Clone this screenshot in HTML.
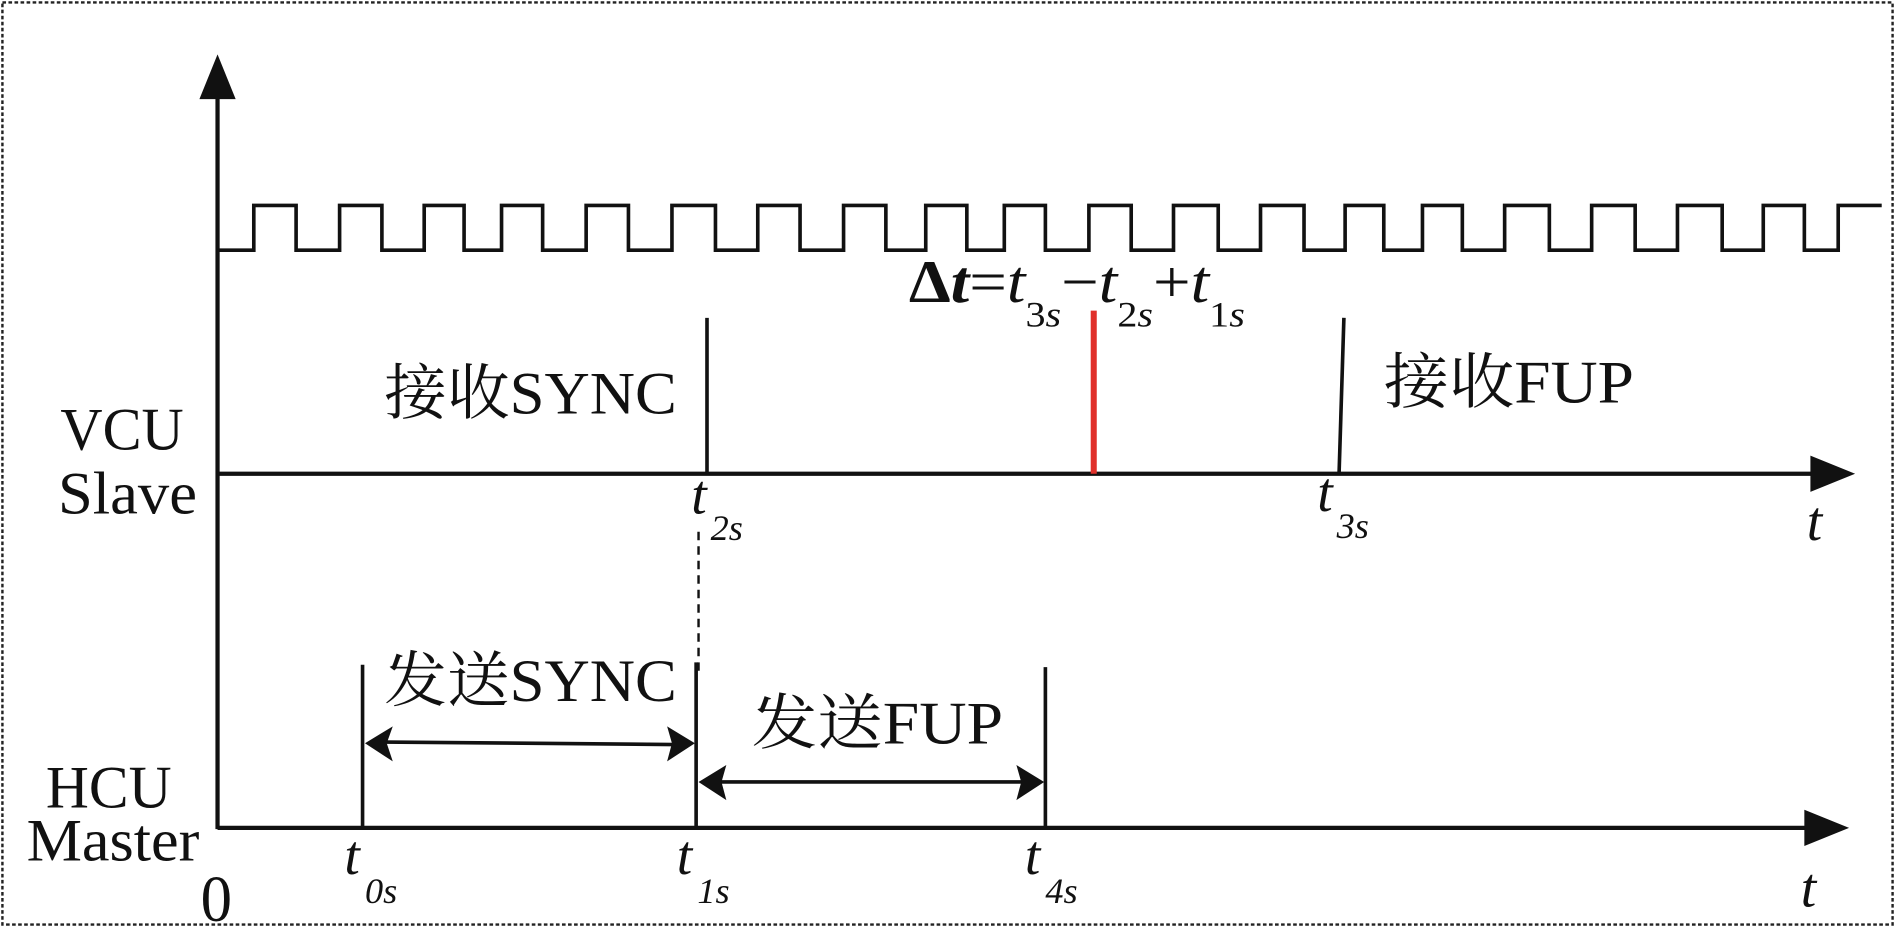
<!DOCTYPE html>
<html><head><meta charset="utf-8"><style>
html,body{margin:0;padding:0;background:#fff;}
svg{display:block;}
text{font-family:"Liberation Serif","Noto Serif CJK SC",serif;fill:#111;}
</style></head><body>
<svg width="1895" height="927" viewBox="0 0 1568 767" preserveAspectRatio="none" xmlns="http://www.w3.org/2000/svg">
<rect x="2" y="2" width="1564" height="763" fill="none" stroke="#222" stroke-width="2" stroke-dasharray="3,2"/>
<g stroke="#111" stroke-width="3.5" fill="none">
<line x1="180" y1="75" x2="180" y2="686"/>
<line x1="180" y1="392" x2="1505" y2="392"/>
<line x1="180" y1="685" x2="1500" y2="685"/>
<path d="M180 207 H210 V170 H245 V207 H281 V170 H316 V207 H351 V170 H384 V207 H415 V170 H449 V207 H485 V170 H520 V207 H556 V170 H592 V207 H627 V170 H662 V207 H698 V170 H733 V207 H766 V170 H800 V207 H831 V170 H865 V207 H901 V170 H936 V207 H971 V170 H1008 V207 H1043 V170 H1079 V207 H1113 V170 H1145 V207 H1177 V170 H1210 V207 H1245 V170 H1282 V207 H1317 V170 H1353 V207 H1388 V170 H1425 V207 H1459 V170 H1493 V207 H1521 V170 H1557" stroke-width="3"/>
<line x1="585" y1="263" x2="585" y2="392" stroke-width="3"/>
<line x1="1112" y1="263" x2="1108" y2="392" stroke-width="3"/>
<line x1="578" y1="440" x2="578" y2="560" stroke-width="2" stroke-dasharray="7,5"/>
<line x1="300" y1="550" x2="300" y2="685" stroke-width="3"/>
<line x1="576" y1="548" x2="576" y2="685" stroke-width="3"/>
<line x1="865" y1="552" x2="865" y2="685" stroke-width="3"/>
<line x1="318" y1="614" x2="558" y2="616" stroke-width="3"/>
<line x1="595" y1="647" x2="847" y2="647" stroke-width="3"/>
</g>
<line x1="905" y1="257" x2="905" y2="392" stroke="#e0302a" stroke-width="5"/>
<g fill="#111">
<polygon points="180,45 165,82 195,82"/>
<polygon points="1535,392 1498,377 1498,407"/>
<polygon points="1530,685 1493,670 1493,700"/>
<polygon points="302,615 325,601 320,615 325,630"/>
<polygon points="575,615 552,601 556,615 552,630"/>
<polygon points="578,647 601,633 597,647 601,662"/>
<polygon points="864,647 841,633 845,647 841,662"/>
</g>
<g font-size="50">
<text x="318" y="342" textLength="242" lengthAdjust="spacingAndGlyphs">接收SYNC</text>
<text x="1145" y="333" textLength="207" lengthAdjust="spacingAndGlyphs">接收FUP</text>
<text x="318" y="580" textLength="242" lengthAdjust="spacingAndGlyphs">发送SYNC</text>
<text x="622" y="615" textLength="208" lengthAdjust="spacingAndGlyphs">发送FUP</text>
</g>
<g font-size="50">
<text x="50" y="372" textLength="102" lengthAdjust="spacingAndGlyphs">VCU</text>
<text x="48" y="425" textLength="115" lengthAdjust="spacingAndGlyphs">Slave</text>
<text x="38" y="668" textLength="104" lengthAdjust="spacingAndGlyphs">HCU</text>
<text x="22" y="712" textLength="143" lengthAdjust="spacingAndGlyphs">Master</text>
<text x="166" y="762" font-size="54" textLength="26" lengthAdjust="spacingAndGlyphs">0</text>
</g>
<g font-size="46" font-style="italic">
<text x="572" y="425">t</text><text x="588" y="447" font-size="30">2s</text>
<text x="1090" y="423">t</text><text x="1106" y="445" font-size="30">3s</text>
<text x="1495" y="447">t</text>
<text x="1490" y="750">t</text>
<text x="285" y="723">t</text><text x="302" y="747" font-size="30">0s</text>
<text x="560" y="723">t</text><text x="577" y="747" font-size="30">1s</text>
<text x="848" y="723">t</text><text x="865" y="747" font-size="30">4s</text>
</g>
<text x="752" y="250" font-size="50" textLength="278" lengthAdjust="spacingAndGlyphs"><tspan font-weight="bold">Δ</tspan><tspan font-style="italic" font-weight="bold">t</tspan>=<tspan font-style="italic">t</tspan><tspan font-size="30" dy="20">3<tspan font-style="italic">s</tspan></tspan><tspan dy="-20">−</tspan><tspan font-style="italic">t</tspan><tspan font-size="30" dy="20">2<tspan font-style="italic">s</tspan></tspan><tspan dy="-20">+</tspan><tspan font-style="italic">t</tspan><tspan font-size="30" dy="20">1<tspan font-style="italic">s</tspan></tspan></text>
</svg>
</body></html>
